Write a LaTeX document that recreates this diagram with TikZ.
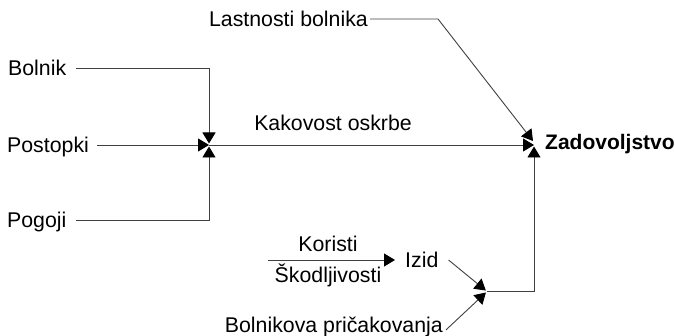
\documentclass[tikz,border=0pt]{standalone}
\usepackage{fontspec}
\setmainfont{Liberation Sans}
\usetikzlibrary{arrows.meta}
\begin{document}
\begin{tikzpicture}[x=1pt,y=-1pt,
  lbl/.style={font=\fontsize{21.3}{25}\selectfont, text height=15pt, text depth=0pt, inner ysep=0pt, inner xsep=0pt},
  conn/.style={draw=black!75, line width=0.9pt},
  tip/.style={-{Triangle[length=11pt,width=13pt,black]}},
]
\useasboundingbox (0,0) rectangle (675,336);
\node[lbl, anchor=west] (bolnik) at (8,68) {Bolnik};
\node[lbl, anchor=west] (postopki) at (7,145) {Postopki};
\node[lbl, anchor=west] (pogoji) at (7,220) {Pogoji};
\coordinate (J1) at (209,145);
\coordinate (Z) at (534,145);
\node[lbl, anchor=west, font=\fontsize{21}{25}\selectfont\bfseries] (zad) at (545,142) {Zadovoljstvo};
\node[lbl] (kak) at (333,123.5) {Kakovost oskrbe};
\node[lbl, anchor=east] (last) at (368,19) {Lastnosti bolnika};
\coordinate (Lc) at (438,19);
\coordinate (Zd) at (533,141);
\node[lbl, anchor=west, inner xsep=10pt] (izid) at (395,260) {Izid};
\coordinate (K0) at (268,260);
\node[lbl] (kor) at (328,244) {Koristi};
\node[lbl] (skod) at (328,275.5) {Škodljivosti};
\coordinate (J2) at (487,291.5);
\node[lbl, anchor=east] (bpr) at (443,325) {Bolnikova pričakovanja};

\draw[conn, tip, shorten <=10pt, shorten >=1.5pt] (bolnik.east) -| (J1);
\draw[conn, tip, shorten <=8pt] (postopki.east) -- (J1);
\draw[conn, tip, shorten <=9pt, shorten >=1.5pt] (pogoji.east) -| (J1);
\draw[conn, tip] (J1) -- (Z);
\draw[conn, tip, shorten <=2pt] (last.east) -- (Lc) -- (Zd);
\draw[conn, tip, shorten >=1.5pt] (J2) -| (Z);
\draw[conn, tip] (K0) -- (izid.west);
\draw[conn, tip, shorten >=1.5pt] (izid.east) -- (J2);
\draw[conn, tip, shorten <=4pt, shorten >=1.5pt] (bpr.south east) -- (J2);
\end{tikzpicture}
\end{document}
